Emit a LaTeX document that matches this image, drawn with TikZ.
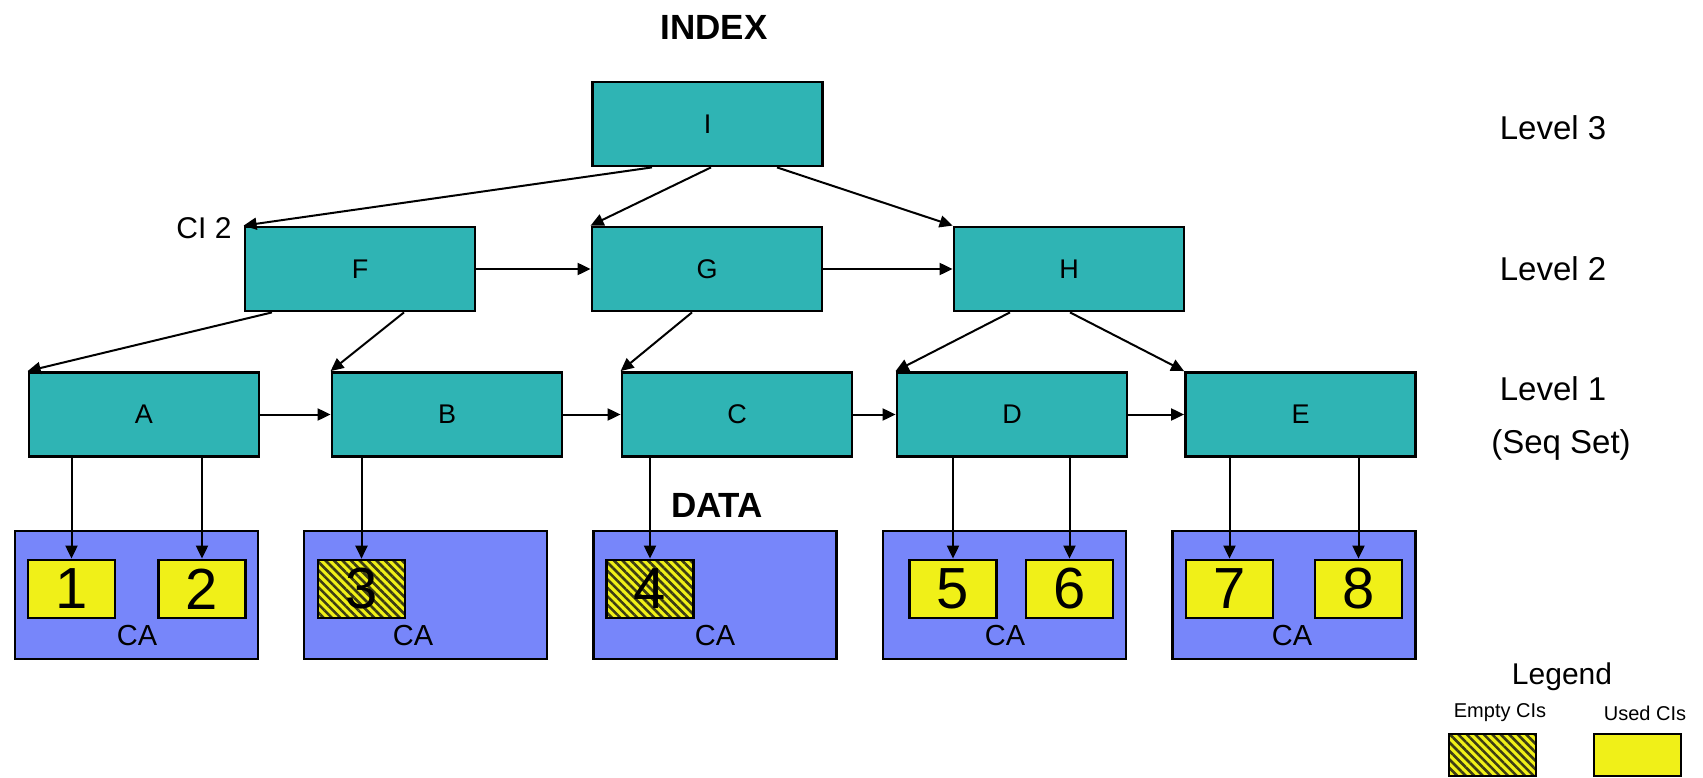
\documentclass[tikz,border=0pt]{standalone}
\usepackage{fontspec}
\setmainfont{Liberation Sans}
\usetikzlibrary{arrows.meta,patterns.meta}
\definecolor{tealbox}{RGB}{47,180,180}
\definecolor{databox}{RGB}{119,134,250}
\definecolor{ciyellow}{RGB}{240,240,24}
\definecolor{hatchdark}{RGB}{60,60,20}
\tikzset{
  idx/.style={draw=black, line width=2.8pt, fill=tealbox, minimum width=230pt, minimum height=84pt, inner sep=0pt, font=\fontsize{27}{27}\selectfont},
  dbox/.style={draw=black, line width=2.8pt, fill=databox, minimum width=243pt, minimum height=128pt, inner sep=0pt},
  ci/.style={draw=black, line width=2.8pt, fill=ciyellow, minimum width=87pt, minimum height=58pt, inner sep=0pt, font=\fontsize{58}{58}\selectfont},
  ciempty/.style={ci, preaction={fill=ciyellow}, pattern={Lines[angle=-45,distance=6pt,line width=2.6pt]}, pattern color=hatchdark},
  arr/.style={-{Triangle[length=13pt,width=12pt]}, line width=2pt},
  lbl/.style={inner sep=0pt, font=\fontsize{#1}{#1}\selectfont},
  lbl/.default=30,
  blbl/.style={inner sep=0pt, font=\fontsize{35}{35}\selectfont\bfseries},
}
\begin{document}
\begin{tikzpicture}[x=1pt,y=-1pt]
\useasboundingbox (0,0) rectangle (1703,778);
% labels
\node[blbl] (index) at (714,27) {INDEX};
\node[blbl] (data) at (717,505) {DATA};
\node[lbl=33] (l3) at (1553,128) {Level 3};
\node[lbl=33] (l2) at (1553,269) {Level 2};
\node[lbl=33] (l1) at (1553,389) {Level 1};
\node[lbl=33] (seq) at (1561,445) {(Seq Set)};
\node[lbl=30] (ci2) at (204,228) {CI 2};
% index nodes
\node[idx] (I) at (707.5,124) {I};
\node[idx] (F) at (360,269) {F};
\node[idx] (G) at (707,269) {G};
\node[idx] (H) at (1069,269) {H};
\node[idx] (A) at (144,414.5) {A};
\node[idx] (B) at (447,414.5) {B};
\node[idx] (C) at (737,414.5) {C};
\node[idx] (D) at (1012,414.5) {D};
\node[idx] (E) at (1300.5,414.5) {E};
% data boxes
\node[dbox] (d1) at (136.5,595) {};
\node[dbox] (d2) at (425.5,595) {};
\node[dbox] (d3) at (715,595) {};
\node[dbox] (d4) at (1004.5,595) {};
\node[dbox] (d5) at (1294,595) {};
\foreach \x/\n in {137/1,413/2,715/3,1005/4,1292/5}
  \node[lbl=29] (ca\n) at (\x,636) {CA};
% control intervals
\node[ci] (c1) at (71.5,589) {1};
\node[ci] (c2) at (202,589) {2};
\node[ciempty] (c3) at (361.5,589) {3};
\node[ciempty] (c4) at (650,589) {4};
\node[ci] (c5) at (953,589) {5};
\node[ci] (c6) at (1069.5,589) {6};
\node[ci] (c7) at (1229.5,589) {7};
\node[ci] (c8) at (1358.5,589) {8};
% tree arrows
\draw[arr] ([xshift=-55.5pt]I.south) -- (F.north west);
\draw[arr] ([xshift=3.5pt]I.south) -- (G.north west);
\draw[arr] ([xshift=69.5pt]I.south) -- (H.north west);
\draw[arr] ([xshift=-88pt]F.south) -- (A.north west);
\draw[arr] ([xshift=44pt]F.south) -- (B.north west);
\draw[arr] ([xshift=-15pt]G.south) -- (C.north west);
\draw[arr] ([xshift=-59pt]H.south) -- (D.north west);
\draw[arr] ([xshift=1pt]H.south) -- (E.north west);
% sequence arrows
\draw[arr] (F.east) -- (G.west);
\draw[arr] (G.east) -- (H.west);
\draw[arr] (A.east) -- (B.west);
\draw[arr] (B.east) -- (C.west);
\draw[arr] (C.east) -- (D.west);
\draw[arr] (D.east) -- (E.west);
% data pointers
\draw[arr] (c1.north |- A.south) -- (c1.north);
\draw[arr] (c2.north |- A.south) -- (c2.north);
\draw[arr] (c3.north |- B.south) -- (c3.north);
\draw[arr] (c4.north |- C.south) -- (c4.north);
\draw[arr] (c5.north |- D.south) -- (c5.north);
\draw[arr] (c6.north |- D.south) -- (c6.north);
\draw[arr] (c7.north |- E.south) -- (c7.north);
\draw[arr] (c8.north |- E.south) -- (c8.north);
% legend
\node[lbl=30] (leg) at (1562,677) {Legend};
\node[lbl=20] (lempty) at (1500,713) {Empty CIs};
\node[lbl=20] (lused) at (1645,713) {Used CIs};
\node[ciempty, minimum width=87pt, minimum height=42pt] (lbe) at (1492.5,755) {};
\node[ci, minimum width=87pt, minimum height=42pt] (lbu) at (1637.5,755) {};
\end{tikzpicture}
\end{document}
